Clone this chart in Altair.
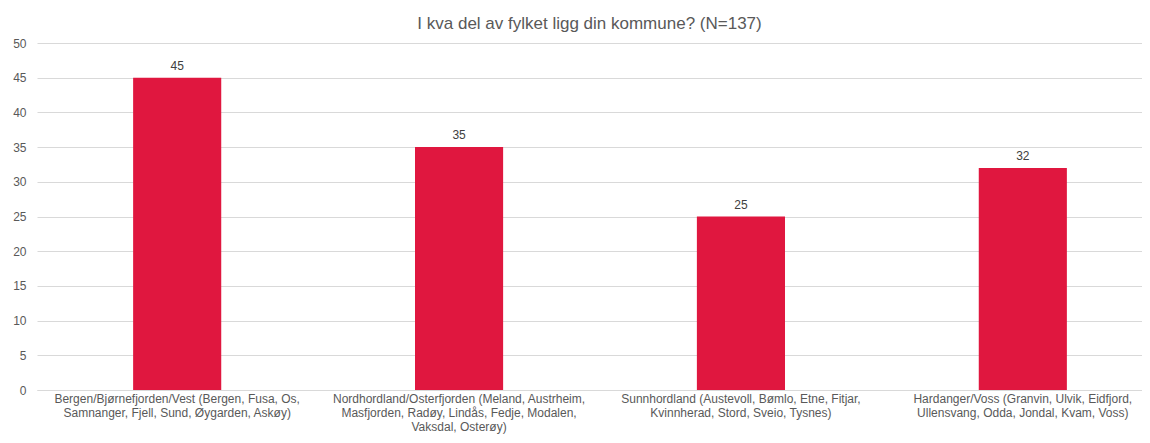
import altair as alt
import pandas as pd

categories = [
    "Bergen/Bjørnefjorden/Vest (Bergen, Fusa, Os, Samnanger, Fjell, Sund, Øygarden, Askøy)",
    "Nordhordland/Osterfjorden (Meland, Austrheim, Masfjorden, Radøy, Lindås, Fedje, Modalen, Vaksdal, Osterøy)",
    "Sunnhordland (Austevoll, Bømlo, Etne, Fitjar, Kvinnherad, Stord, Sveio, Tysnes)",
    "Hardanger/Voss (Granvin, Ulvik, Eidfjord, Ullensvang, Odda, Jondal, Kvam, Voss)",
]
label_lines = [
    ["Bergen/Bjørnefjorden/Vest (Bergen, Fusa, Os,", "Samnanger, Fjell, Sund, Øygarden, Askøy)"],
    ["Nordhordland/Osterfjorden (Meland, Austrheim,", "Masfjorden, Radøy, Lindås, Fedje, Modalen,", "Vaksdal, Osterøy)"],
    ["Sunnhordland (Austevoll, Bømlo, Etne, Fitjar,", "Kvinnherad, Stord, Sveio, Tysnes)"],
    ["Hardanger/Voss (Granvin, Ulvik, Eidfjord,", "Ullensvang, Odda, Jondal, Kvam, Voss)"],
]
values = [45, 35, 25, 32]
y_ticks = [0, 5, 10, 15, 20, 25, 30, 35, 40, 45, 50]
title_text = "I kva del av fylket ligg din kommune? (N=137)"

df = pd.DataFrame({"region": categories, "count": values})

mapping = "{" + ", ".join(
    "'" + c + "': [" + ", ".join("'" + l + "'" for l in lines) + "]"
    for c, lines in zip(categories, label_lines)
) + "}"
label_expr = mapping + "[datum.value]"

FONT = "Liberation Sans"
GRAY = "#595959"

x_scale = alt.Scale(range=[0, 1126], paddingInner=0.6874, paddingOuter=0.341)
y_scale = alt.Scale(domain=[0, 50], nice=False)

x_axis = alt.Axis(
    labelAngle=0,
    labelExpr=label_expr,
    labelFont=FONT,
    labelFontSize=12,
    labelColor=GRAY,
    labelLineHeight=14,
    labelPadding=3,
    ticks=False,
    domain=True,
    domainColor="#d9d9d9",
    labelLimit=400,
    labelOverlap=False,
    labelBaseline="top",
)
y_axis = alt.Axis(
    values=y_ticks,
    tickCount=11,
    labelFont=FONT,
    labelFontSize=12,
    labelColor=GRAY,
    labelPadding=11,
    labelOverlap=False,
    ticks=False,
    domain=False,
    grid=True,
    gridColor="#d9d9d9",
    gridWidth=1,
)

x_enc = alt.X("region:N", sort=categories, title=None, scale=x_scale, axis=x_axis)
y_enc = alt.Y("count:Q", title=None, scale=y_scale, axis=y_axis)

bars = alt.Chart(df).mark_bar(color="#E0173F").encode(x=x_enc, y=y_enc)
text = alt.Chart(df).mark_text(
    dy=-12, font=FONT, fontSize=12, color="#404040"
).encode(x=x_enc, y=y_enc, text="count:Q")

chart = (
    alt.layer(bars, text)
    .properties(
        width=1105,
        height=347,
        autosize=alt.AutoSizeParams(type="none"),
        padding={"left": 29, "top": 35, "right": 0, "bottom": 45},
        title=alt.TitleParams(
            title_text, font=FONT, fontSize=17, fontWeight="normal",
            color=GRAY, anchor="middle", offset=4,
        ),
    )
    .configure_view(stroke=None)
)

chart.save("out.html", embed_options={"renderer": "svg", "actions": False})
